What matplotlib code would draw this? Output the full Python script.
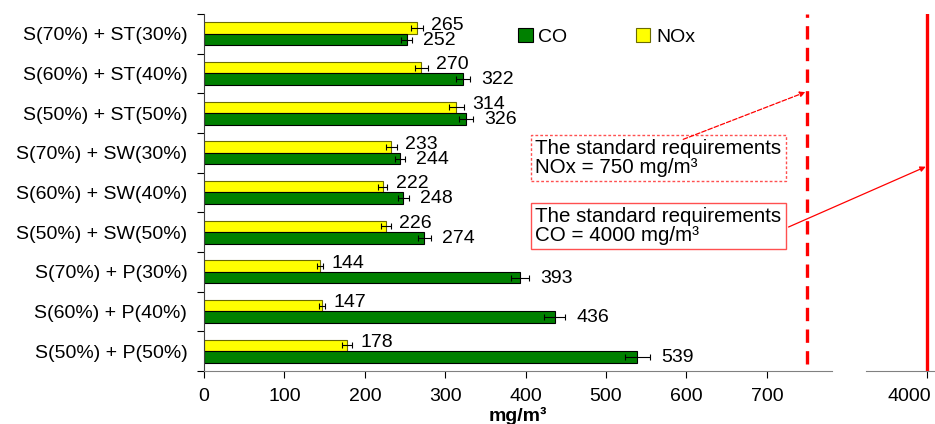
import matplotlib.pyplot as plt
import matplotlib.transforms as mtransforms
import numpy as np

plt.rcParams['font.family'] = ['Liberation Sans', 'DejaVu Sans']

mixes = ["S(70%) + ST(30%)", "S(60%) + ST(40%)", "S(50%) + ST(50%)",
         "S(70%) + SW(30%)", "S(60%) + SW(40%)", "S(50%) + SW(50%)",
         "S(70%) + P(30%)", "S(60%) + P(40%)", "S(50%) + P(50%)"]
nox = [265, 270, 314, 233, 222, 226, 144, 147, 178]
nox_err = [7, 8, 9, 7, 6, 6, 4, 4, 6]
co = [252, 322, 326, 244, 248, 274, 393, 436, 539]
co_err = [7, 9, 9, 6, 7, 8, 11, 13, 16]

nox_limit = 750
co_limit = 4000

fs = 14

fig = plt.figure(figsize=(9.35, 4.24), dpi=100)
ax = fig.add_axes([0.2182, 0.125, 0.6716, 0.842])
ax2 = fig.add_axes([0.926, 0.125, 0.074, 0.842])

y = np.arange(len(mixes))
h = 0.29
ebar = dict(ecolor='black', elinewidth=0.8, capsize=2.5, capthick=0.8)
ax.barh(y - h / 2, nox, h, xerr=nox_err, color='#ffff00', edgecolor='#6b6b00',
        linewidth=0.8, error_kw=ebar, label='NOx')
ax.barh(y + h / 2, co, h, xerr=co_err, color='#008000', edgecolor='black',
        linewidth=0.8, error_kw=ebar, label='CO')

for i in range(len(mixes)):
    ax.annotate(str(nox[i]), (nox[i] + nox_err[i], y[i] - h / 2), xytext=(6, 2),
                textcoords='offset points', va='center', fontsize=fs)
    ax.annotate(str(co[i]), (co[i] + co_err[i], y[i] + h / 2), xytext=(8, -0.5),
                textcoords='offset points', va='center', fontsize=fs)

ax.set_ylim(8.5, -0.5)
ax.set_xlim(0, 781)
ax.set_yticks(np.arange(-0.5, 9, 1))
ax.set_yticklabels([])
ax.set_yticks(y, minor=True)
ax.set_yticklabels(mixes, minor=True, fontsize=fs)
ax.tick_params(axis='y', which='minor', length=0, pad=12)
ax.tick_params(axis='y', which='major', length=5, direction='out')
ax.set_xticks(range(0, 800, 100))
ax.tick_params(axis='x', labelsize=fs, length=5, pad=7)
for s in ['top', 'right']:
    ax.spines[s].set_visible(False)
ax.spines['left'].set_color('#404040')
ax.spines['bottom'].set_color('#808080')
ax.set_xlabel('mg/m³', fontsize=fs, fontweight='bold', labelpad=2)

# NOx limit
ax.axvline(nox_limit, ymin=0.02, ymax=1.0, color='red', lw=2.4, ls=(0, (4, 2.5)))

# CO limit on the broken part of the axis
ax2.set_xlim(3920, 4010)
ax2.set_ylim(8.5, -0.5)
ax2.set_xticks([co_limit])
ax2.set_yticks([])
ax2.tick_params(axis='x', labelsize=fs, length=5, pad=7)
shift = mtransforms.ScaledTranslation(4 / 100, 0, fig.dpi_scale_trans)
for lab in ax2.get_xticklabels():
    lab.set_horizontalalignment('right')
    lab.set_transform(lab.get_transform() + shift)
for s in ['top', 'right', 'left']:
    ax2.spines[s].set_visible(False)
ax2.spines['bottom'].set_color('#808080')
ax2.patch.set_visible(False)
ax2.axvline(co_limit, ymin=0.0, ymax=1.0, color='red', lw=2.4)

box_fs = 14.8
ax.text(412, 3.14, 'The standard requirements\nNOx = 750 mg/m³', fontsize=box_fs,
        va='center', ha='left', linespacing=1.0,
        bbox=dict(boxstyle='square,pad=0.2', fc='white', ec='#ff5050', lw=1,
                  ls=(0, (2, 1.5))))
ax.annotate('', xy=(nox_limit - 2, 1.47), xytext=(596, 2.66),
            arrowprops=dict(arrowstyle='-|>', color='red', lw=0.9, ls='--',
                            mutation_scale=8, shrinkA=0, shrinkB=0))

ax.text(412, 4.85, 'The standard requirements\nCO = 4000 mg/m³', fontsize=box_fs,
        va='center', ha='left', linespacing=1.0,
        bbox=dict(boxstyle='square,pad=0.2', fc='white', ec='#ff5050', lw=1))
ax2.annotate('', xy=(co_limit - 2, 3.35), xytext=(727, 4.87),
             textcoords=ax.transData,
             arrowprops=dict(arrowstyle='-|>', color='red', lw=0.9,
                             mutation_scale=8, shrinkA=0, shrinkB=0))

handles, labels = ax.get_legend_handles_labels()
ax.legend(handles[::-1], labels[::-1], ncol=2, frameon=False, fontsize=fs,
          handlelength=0.75, handleheight=0.75, handletextpad=0.3,
          columnspacing=3.5, borderpad=0, borderaxespad=0,
          loc='center left', bbox_to_anchor=(0.554, 0.913),
          bbox_transform=fig.transFigure)

fig.savefig('out.png', dpi=100)
